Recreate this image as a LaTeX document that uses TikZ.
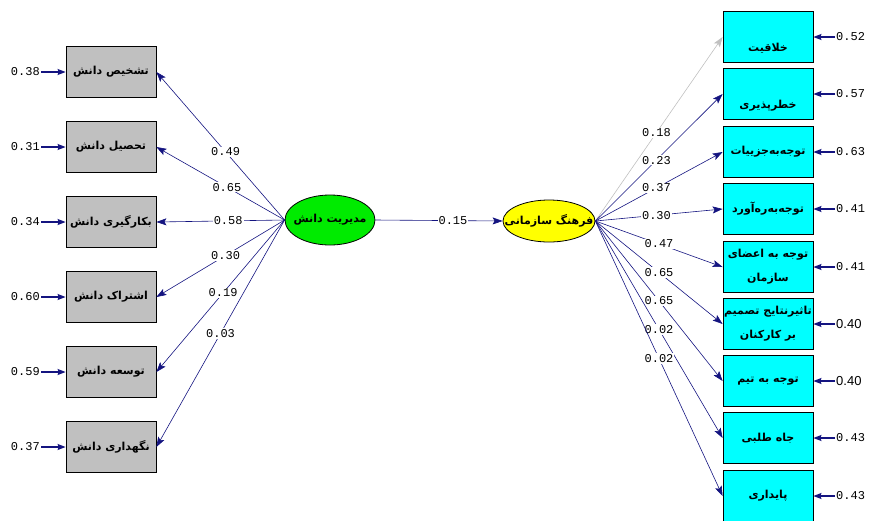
\documentclass[tikz,border=0pt]{standalone}
\usepackage{fontspec}
\setmainfont{DejaVu Sans}
\newfontfamily\farsi[Script=Arabic]{DejaVu Sans}
\newfontfamily\numfont{Liberation Mono}
\newfontfamily\numsans{Liberation Sans}
\TeXXeTstate=1
\usepackage{xcolor}
\usepackage{tikz}
\usetikzlibrary{arrows.meta,shapes.geometric}
\definecolor{lisnavy}{RGB}{20,20,128}
\definecolor{lisgray}{RGB}{192,192,192}
\definecolor{liscyan}{RGB}{0,255,255}
\definecolor{lisgreen}{RGB}{0,235,0}
\definecolor{lisyellow}{RGB}{255,255,0}
\newcommand{\fa}[1]{{\farsi\bfseries\beginR #1\endR}}

\begin{document}
\begin{tikzpicture}[x=1pt, y=-1pt,
  every node/.style={font=\fontsize{11}{22}\selectfont},
  kbox/.style={draw, thick, fill=lisgray, minimum width=90pt, minimum height=51pt, inner sep=0pt},
  cbox/.style={draw, thick, fill=liscyan, minimum width=90pt, minimum height=51pt, inner sep=0pt, align=center},
  latent/.style={ellipse, draw, thick, inner sep=0pt},
  load/.style={draw=lisnavy, line width=0.6pt, -{Stealth[length=10pt, width=7pt, inset=2pt]}},
  coef/.style={fill=white, inner sep=1pt, font=\numfont\fontsize{12}{12}\selectfont},
  errlab/.style={inner sep=1pt, font=\numfont\fontsize{12}{12}\selectfont},
  errarr/.style={draw=lisnavy, line width=1.2pt, -{Stealth[length=8pt, width=6pt, inset=1pt]}}]
  \useasboundingbox (0,0) rectangle (869,520);

  \node[latent, fill=lisgreen, minimum width=90pt, minimum height=50pt] (km) at (330,220) {\makebox[0pt]{\fa{مدیریت دانش}}};
  \node[latent, fill=lisyellow, minimum width=92pt, minimum height=42pt] (oc) at (549,221) {\makebox[0pt]{\fa{فرهنگ سازمانی}}};

  \node[kbox] (diag) at (111,72) {\fa{تشخیص دانش}};
  \node[kbox] (acq) at (111,147) {\fa{تحصیل دانش}};
  \node[kbox] (use) at (111,222) {\fa{بکارگیری دانش}};
  \node[kbox] (share) at (111,297) {\fa{اشتراک دانش}};
  \node[kbox] (dev) at (111,372) {\fa{توسعه دانش}};
  \node[kbox] (keep) at (111,447) {\fa{نگهداری دانش}};

  \node[cbox, text height=30pt, text depth=2pt] (creat) at (768,37) {\fa{خلاقیت}};
  \node[cbox, text height=30pt, text depth=2pt] (risk) at (768,94) {\fa{خطرپذیری}};
  \node[cbox] (detail) at (768,152) {\fa{توجه‌به‌جزییات}};
  \node[cbox] (outcome) at (768,209) {\fa{توجه‌به‌ره‌آورد}};
  \node[cbox] (member) at (768,267) {\fa{توجه به اعضای}\\[2pt]\fa{سازمان}};
  \node[cbox] (impact) at (768,324) {\fa{تاثیرنتایج تصمیم}\\[2pt]\fa{بر کارکنان}};
  \node[cbox] (team) at (768,381) {\fa{توجه به تیم}};
  \node[cbox] (ambit) at (768,438) {\fa{جاه طلبی}};
  \node[cbox] (stab) at (768,496) {\fa{پایداری}};

  \path[load] (km.west) -- node[coef, pos=0.46] {0.49} (diag.east);
  \path[load] (km.west) -- node[coef, pos=0.45] {0.65} (acq.east);
  \path[load] (km.west) -- node[coef, pos=0.44] {0.58} (use.east);
  \path[load] (km.west) -- node[coef, pos=0.46] {0.30} (share.east);
  \path[load] (km.west) -- node[coef, pos=0.48] {0.19} (dev.east);
  \path[load] (km.west) -- node[coef, pos=0.5] {0.03} (keep.east);

  \path[load] (km.east) -- node[coef, pos=0.61] {0.15} (oc.west);

  \path[load, draw=lisgray] (oc.east) -- node[coef, pos=0.48] {0.18} (creat.west);
  \path[load] (oc.east) -- node[coef, pos=0.48] {0.23} (risk.west);
  \path[load] (oc.east) -- node[coef, pos=0.48] {0.37} (detail.west);
  \path[load] (oc.east) -- node[coef, pos=0.48] {0.30} (outcome.west);
  \path[load] (oc.east) -- node[coef, pos=0.5] {0.47} (member.west);
  \path[load] (oc.east) -- node[coef, pos=0.5] {0.65} (impact.west);
  \path[load] (oc.east) -- node[coef, pos=0.5] {0.65} (team.west);
  \path[load] (oc.east) -- node[coef, pos=0.5] {0.02} (ambit.west);
  \path[load] (oc.east) -- node[coef, pos=0.5] {0.02} (stab.west);

  \node[errlab, anchor=east] (ediag) at (41,72) {0.38};
  \node[errlab, anchor=east] (eacq) at (41,147) {0.31};
  \node[errlab, anchor=east] (euse) at (41,222) {0.34};
  \node[errlab, anchor=east] (eshare) at (41,297) {0.60};
  \node[errlab, anchor=east] (edev) at (41,372) {0.59};
  \node[errlab, anchor=east] (ekeep) at (41,447) {0.37};
  \draw[errarr] (ediag.east) -- (diag.west);
  \draw[errarr] (eacq.east) -- (acq.west);
  \draw[errarr] (euse.east) -- (use.west);
  \draw[errarr] (eshare.east) -- (share.west);
  \draw[errarr] (edev.east) -- (dev.west);
  \draw[errarr] (ekeep.east) -- (keep.west);

  \node[errlab, anchor=west] (ecreat) at (835,37) {0.52};
  \node[errlab, anchor=west] (erisk) at (835,94) {0.57};
  \node[errlab, anchor=west] (edetail) at (835,152) {0.63};
  \node[errlab, anchor=west] (eoutcome) at (835,209) {0.41};
  \node[errlab, anchor=west] (emember) at (835,267) {0.41};
  \node[errlab, anchor=west, font=\numsans\fontsize{13}{14}\selectfont] (eimpact) at (835,324) {0.40};
  \node[errlab, anchor=west, font=\numsans\fontsize{13}{14}\selectfont] (eteam) at (835,381) {0.40};
  \node[errlab, anchor=west] (eambit) at (835,438) {0.43};
  \node[errlab, anchor=west] (estab) at (835,496) {0.43};
  \draw[errarr] (ecreat.west) -- (creat.east);
  \draw[errarr] (erisk.west) -- (risk.east);
  \draw[errarr] (edetail.west) -- (detail.east);
  \draw[errarr] (eoutcome.west) -- (outcome.east);
  \draw[errarr] (emember.west) -- (member.east);
  \draw[errarr] (eimpact.west) -- (impact.east);
  \draw[errarr] (eteam.west) -- (team.east);
  \draw[errarr] (eambit.west) -- (ambit.east);
  \draw[errarr] (estab.west) -- (stab.east);
\end{tikzpicture}
\end{document}
